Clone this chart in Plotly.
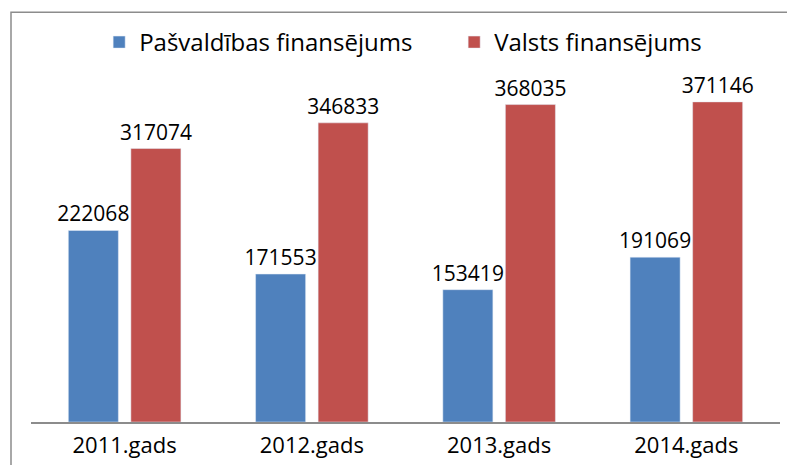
import plotly.graph_objects as go

categories = ["2011.gads", "2012.gads", "2013.gads", "2014.gads"]
pasvaldibas = [222068, 171553, 153419, 191069]
valsts = [317074, 346833, 368035, 371146]
series_names = ["Pašvaldības finansējums", "Valsts finansējums"]

FONT = "Open Sans"

fig = go.Figure()
fig.add_trace(go.Bar(
    x=categories, y=pasvaldibas, name=series_names[0],
    marker=dict(color="#4F81BD"),
    text=[str(v) for v in pasvaldibas], textposition="outside",
    textfont=dict(family=FONT, size=21, color="#000000"),
    constraintext="none", cliponaxis=False,
))
fig.add_trace(go.Bar(
    x=categories, y=valsts, name=series_names[1],
    marker=dict(color="#C0504D"),
    text=[str(v) for v in valsts], textposition="outside",
    textfont=dict(family=FONT, size=21, color="#000000"),
    constraintext="none", cliponaxis=False,
))

# outer chart frame (top and left edges visible)
fig.add_shape(type="path", xref="paper", yref="paper",
              path="M -0.0267 -0.2 L -0.0267 1.188 L 1.05 1.188",
              line=dict(color="#8C8C8C", width=1.5))

fig.update_layout(
    width=787, height=465,
    margin=dict(l=31, r=7, t=77, b=43, autoexpand=False),
    paper_bgcolor="white", plot_bgcolor="white",
    barmode="group", bargap=0.332, bargroupgap=0.2,
    showlegend=True,
    legend=dict(orientation="h", x=0.091, xanchor="left", y=1.10, yanchor="middle",
                font=dict(family=FONT, size=24, color="#000000"),
                entrywidth=310, entrywidthmode="pixels",
                itemwidth=30, bgcolor="rgba(0,0,0,0)"),
    font=dict(family=FONT, color="#000000"),
)
fig.update_xaxes(showline=True, linecolor="#8C8C8C", linewidth=1.5, ticks="",
                 ticklabelstandoff=3, automargin=False,
                 tickfont=dict(family=FONT, size=22, color="#000000"),
                 showgrid=False, fixedrange=True)
fig.update_yaxes(range=[0, 400000], visible=False, showgrid=False, fixedrange=True,
                 automargin=False)

fig.write_html("out.html", config={"displayModeBar": False},
               post_script="document.body.style.margin='0';document.body.style.overflow='hidden';")
